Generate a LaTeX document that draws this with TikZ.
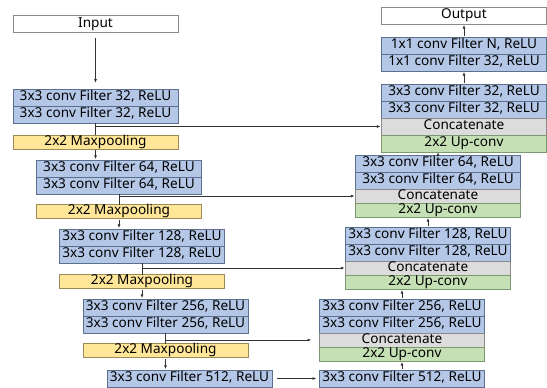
\documentclass[tikz,border=0pt]{standalone}
\usepackage{fontspec}
\setmainfont{Noto Sans}
\usepackage{xcolor}
\usepackage{tikz}
\usetikzlibrary{arrows.meta,positioning}
\definecolor{convfill}{HTML}{B4C7E7}
\definecolor{convline}{HTML}{5B6F8F}
\definecolor{poolfill}{HTML}{FFE699}
\definecolor{poolline}{HTML}{9A8A55}
\definecolor{catfill}{HTML}{DCDCDC}
\definecolor{catline}{HTML}{8A8A8A}
\definecolor{upfill}{HTML}{C5E0B4}
\definecolor{upline}{HTML}{7C9970}
\definecolor{ioline}{HTML}{8C8C8C}
\definecolor{linec}{HTML}{333333}

\begin{document}
\begin{tikzpicture}[
  x=0.75pt, y=-0.75pt,
  blk/.style={rectangle,draw,line width=0.7pt,inner sep=0pt,outer sep=0pt,minimum width=123.75pt,minimum height=12.75pt,text height=7.3pt,text depth=2.1pt,font=\fontsize{10.2}{11}\selectfont},
  conv/.style={blk,draw=convline,fill=convfill},
  pool/.style={blk,draw=poolline,fill=poolfill,minimum height=10.5pt},
  catbox/.style={blk,draw=catline,fill=catfill,minimum height=10.5pt},
  upbox/.style={blk,draw=upline,fill=upfill,minimum height=10.5pt},
  io/.style={blk,draw=ioline,fill=white},
  arr/.style={-{Latex[length=3pt,width=2.2pt]},line width=0.6pt,draw=linec,shorten <=1pt,shorten >=0.5pt},
  ln/.style={line width=0.6pt,draw=linec}
]
\useasboundingbox (0,0) rectangle (547,387);

\node[io] (in) at (95.5,24) {Input};
\node[conv] (c1a) at (95.5,97.5) {3x3 conv Filter 32, ReLU};
\node[conv,below=0pt of c1a] (c1b) {3x3 conv Filter 32, ReLU};
\node[pool] (p1) at (95.5,142) {2x2 Maxpooling};
\node[conv] (c2a) at (119,168.5) {3x3 conv Filter 64, ReLU};
\node[conv,below=0pt of c2a] (c2b) {3x3 conv Filter 64, ReLU};
\node[pool] (p2) at (119,211.5) {2x2 Maxpooling};
\node[conv] (c3a) at (142,237.5) {3x3 conv Filter 128, ReLU};
\node[conv,below=0pt of c3a] (c3b) {3x3 conv Filter 128, ReLU};
\node[pool] (p3) at (142,281.5) {2x2 Maxpooling};
\node[conv] (c4a) at (165.5,307.5) {3x3 conv Filter 256, ReLU};
\node[conv,below=0pt of c4a] (c4b) {3x3 conv Filter 256, ReLU};
\node[pool] (p4) at (165.5,350.5) {2x2 Maxpooling};
\node[conv] (c5) at (189.5,378.5) {3x3 conv Filter 512, ReLU};

\node[io] (out) at (464,15.5) {Output};
\node[conv] (f1a) at (464,45.5) {1x1 conv Filter N, ReLU};
\node[conv,below=0pt of f1a] (f1b) {1x1 conv Filter 32, ReLU};
\node[conv] (u1a) at (464,92.5) {3x3 conv Filter 32, ReLU};
\node[conv,below=0pt of u1a] (u1b) {3x3 conv Filter 32, ReLU};
\node[catbox,minimum height=12.75pt,below=0pt of u1b] (u1cat) {Concatenate};
\node[upbox,minimum height=12.75pt,below=0pt of u1cat] (u1up) {2x2 Up-conv};
\node[conv] (u2a) at (438,163.5) {3x3 conv Filter 64, ReLU};
\node[conv,below=0pt of u2a] (u2b) {3x3 conv Filter 64, ReLU};
\node[catbox,below=0pt of u2b] (u2cat) {Concatenate};
\node[upbox,below=0pt of u2cat] (u2up) {2x2 Up-conv};
\node[conv] (u3a) at (428,235.5) {3x3 conv Filter 128, ReLU};
\node[conv,below=0pt of u3a] (u3b) {3x3 conv Filter 128, ReLU};
\node[catbox,below=0pt of u3b] (u3cat) {Concatenate};
\node[upbox,below=0pt of u3cat] (u3up) {2x2 Up-conv};
\node[conv] (u4a) at (402,307.5) {3x3 conv Filter 256, ReLU};
\node[conv,below=0pt of u4a] (u4b) {3x3 conv Filter 256, ReLU};
\node[catbox,below=0pt of u4b] (u4cat) {Concatenate};
\node[upbox,below=0pt of u4cat] (u4up) {2x2 Up-conv};
\node[conv] (c5r) at (402,378.5) {3x3 conv Filter 512, ReLU};

\draw[arr,shorten <=3.75pt,shorten >=4.5pt] (in) -- (c1a);
\draw[ln] (c1b.south) -- (p1.north);
\draw[arr] (c1b.south) |- (u1cat.west);
\draw[arr] (p1.south) -- (p1.south |- c2a.north);
\draw[ln] (c2b.south) -- (p2.north);
\draw[arr] (c2b.south) |- (u2cat.west);
\draw[arr] (p2.south) -- (p2.south |- c3a.north);
\draw[ln] (c3b.south) -- (p3.north);
\draw[arr] (c3b.south) |- (u3cat.west);
\draw[arr] (p3.south) -- (p3.south |- c4a.north);
\draw[ln] (c4b.south) -- (p4.north);
\draw[arr,shorten >=6pt] (c4b.south) |- (u4cat.west);
\draw[arr] (p4.south) -- (p4.south |- c5.north);
\draw[arr,shorten <=3.75pt,shorten >=2.25pt] (c5) -- (c5r);

\draw[arr] (c5r) -- (u4up);
\draw[arr] (u4a.north) -- (u4a.north |- u3up.south);
\draw[arr] (u3a.north) -- (u3a.north |- u2up.south);
\draw[arr,shorten <=0pt,shorten >=0pt] (u2a.north) -- (u2a.north |- u1up.south);
\draw[arr] (u1a) -- (f1b);
\draw[arr] (f1a) -- (out);
\end{tikzpicture}
\end{document}
